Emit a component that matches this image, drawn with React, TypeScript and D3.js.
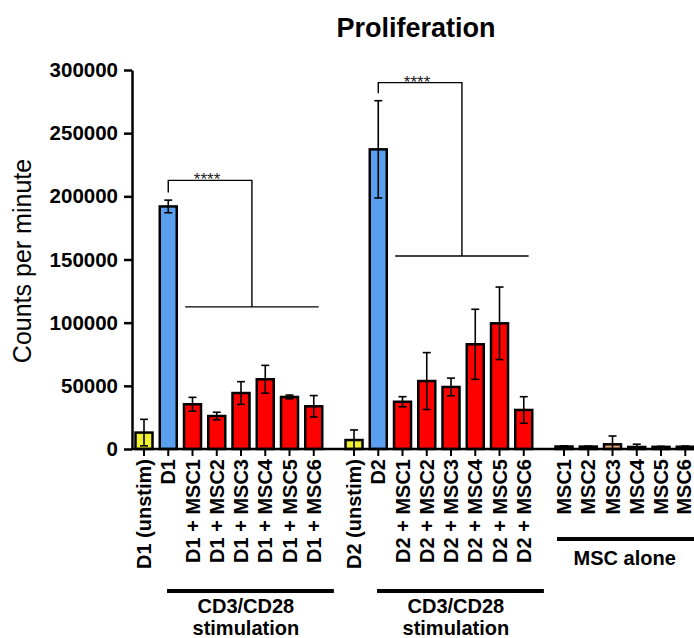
import React, { useEffect, useRef } from "react";
import * as d3 from "d3";

const title = "Proliferation";
const yLabel = "Counts per minute";
const yTicks = [0, 50000, 100000, 150000, 200000, 250000, 300000];

const d1Labels = ["D1 (unstim)", "D1", "D1 + MSC1", "D1 + MSC2", "D1 + MSC3", "D1 + MSC4", "D1 + MSC5", "D1 + MSC6"];
const d1Values = [13000, 192000, 35400, 26100, 44300, 55200, 41200, 33800];
const d1Errors = [10500, 5000, 5500, 3000, 9000, 11000, 1500, 8500];

const d2Labels = ["D2 (unstim)", "D2", "D2 + MSC1", "D2 + MSC2", "D2 + MSC3", "D2 + MSC4", "D2 + MSC5", "D2 + MSC6"];
const d2Values = [7100, 237200, 37400, 53800, 49100, 82900, 99500, 30900];
const d2Errors = [8000, 38500, 4000, 22500, 7000, 27700, 28700, 10500];

const mscLabels = ["MSC1", "MSC2", "MSC3", "MSC4", "MSC5", "MSC6"];
const mscValues = [2000, 1900, 3700, 1600, 1700, 1800];
const mscErrors = [500, 400, 6600, 2200, 400, 500];

// significance brackets per stimulated group
const bracketTops = [212600, 290000];
const bracketDrops = [203000, 281600];
const bracketLows = [112500, 152800];
const stars = "****";

const groupCaptions = ["CD3/CD28", "stimulation"];
const mscCaption = "MSC alone";

const FONT = "'Liberation Sans', Arial, sans-serif";
const W = 694;
const H = 638;

function renderChart(el: SVGSVGElement) {
  const svg = d3.select(el);
  svg.selectAll("*").remove();

  const groupStep = 8.66; // slot offset between groups (bars + gap)
  const x = d3.scaleLinear().domain([-0.495, 22.68]).range([132, W]);
  const y = d3.scaleLinear().domain([0, 300000]).range([449, 70]);

  const colorFor = (i: number) => (i === 0 ? "#f2f032" : i === 1 ? "#5aa0ee" : "#ff0000");

  const rows = [
    ...d1Labels.map((l, i) => ({ label: l, value: d1Values[i], err: d1Errors[i], pos: i, fill: colorFor(i) })),
    ...d2Labels.map((l, i) => ({
      label: l,
      value: d2Values[i],
      err: d2Errors[i],
      pos: groupStep + i,
      fill: colorFor(i),
    })),
    ...mscLabels.map((l, i) => ({
      label: l,
      value: mscValues[i],
      err: mscErrors[i],
      pos: 2 * groupStep + i,
      fill: "#e9a577",
    })),
  ];

  const barW = 17;
  const capW = 8;

  // title
  svg
    .append("text")
    .attr("x", 416)
    .attr("y", 37)
    .attr("text-anchor", "middle")
    .attr("font-family", FONT)
    .attr("font-weight", "bold")
    .attr("font-size", 27)
    .text(title);

  // y axis label
  svg
    .append("text")
    .attr("transform", "translate(31,261) rotate(-90)")
    .attr("text-anchor", "middle")
    .attr("font-family", FONT)
    .attr("font-size", 25)
    .text(yLabel);

  // bars
  const bars = svg.append("g");
  bars
    .selectAll("rect")
    .data(rows)
    .enter()
    .append("rect")
    .attr("x", (d) => x(d.pos) - barW / 2)
    .attr("y", (d) => y(d.value))
    .attr("width", barW)
    .attr("height", (d) => y(0) - y(d.value))
    .attr("fill", (d) => d.fill)
    .attr("stroke", "#000")
    .attr("stroke-width", 2.5);

  // error bars
  const errs = svg.append("g").attr("stroke", "#000").attr("stroke-width", 1.6);
  rows.forEach((d) => {
    const cx = x(d.pos);
    const top = y(d.value + d.err);
    const bot = y(Math.max(0, d.value - d.err));
    errs.append("line").attr("x1", cx).attr("x2", cx).attr("y1", top).attr("y2", bot);
    errs.append("line").attr("x1", cx - capW / 2).attr("x2", cx + capW / 2).attr("y1", top).attr("y2", top);
    errs.append("line").attr("x1", cx - capW / 2).attr("x2", cx + capW / 2).attr("y1", bot).attr("y2", bot);
  });

  // y axis
  const yAxis = svg
    .append("g")
    .attr("transform", "translate(132,0)")
    .call(d3.axisLeft(y).tickValues(yTicks).tickSize(8).tickSizeOuter(0).tickPadding(6).tickFormat(d3.format("d")));
  yAxis.select(".domain").attr("stroke-width", 2.5);
  yAxis.selectAll(".tick line").attr("stroke-width", 2.5);
  yAxis
    .selectAll(".tick text")
    .attr("font-family", FONT)
    .attr("font-weight", "bold")
    .attr("font-size", 20.5)
    .attr("fill", "#000");

  // x axis
  svg
    .append("line")
    .attr("x1", 131)
    .attr("x2", W)
    .attr("y1", y(0))
    .attr("y2", y(0))
    .attr("stroke", "#000")
    .attr("stroke-width", 2.5);

  const ticks = svg.append("g");
  ticks
    .selectAll("line")
    .data(rows)
    .enter()
    .append("line")
    .attr("x1", (d) => x(d.pos))
    .attr("x2", (d) => x(d.pos))
    .attr("y1", y(0))
    .attr("y2", y(0) + 7)
    .attr("stroke", "#000")
    .attr("stroke-width", 2);

  ticks
    .selectAll("text")
    .data(rows)
    .enter()
    .append("text")
    .attr("transform", (d) => "translate(" + Math.min(x(d.pos), 684) + "," + 459 + ") rotate(-90)")
    .attr("dy", "0.36em")
    .attr("text-anchor", "end")
    .attr("font-family", FONT)
    .attr("font-weight", "bold")
    .attr("font-size", 20)
    .text((d) => d.label);

  // significance brackets
  const br = svg.append("g").attr("stroke", "#000").attr("stroke-width", 1.4).attr("fill", "none");
  [0, 1].forEach((g) => {
    const off = g * groupStep;
    const xa = x(off + 1);
    const xm = x(off + 4.45);
    const xl0 = x(off + 1.7);
    const xl1 = x(off + 7.2);
    br.append("path").attr(
      "d",
      `M${xa},${y(bracketDrops[g])}V${y(bracketTops[g])}H${xm}V${y(bracketLows[g])}`
    );
    br.append("line").attr("x1", xl0).attr("x2", xl1).attr("y1", y(bracketLows[g])).attr("y2", y(bracketLows[g]));
    svg
      .append("text")
      .attr("x", (xa + xm) / 2 - 3)
      .attr("y", y(bracketTops[g]) + 5)
      .attr("text-anchor", "middle")
      .attr("font-family", FONT)
      .attr("font-size", 17)
      .attr("fill", "#222")
      .text(stars);
  });

  // group captions
  [0, 1].forEach((g) => {
    const off = g * groupStep;
    svg
      .append("line")
      .attr("x1", x(off + 0.95))
      .attr("x2", x(off + 7.83))
      .attr("y1", 591)
      .attr("y2", 591)
      .attr("stroke", "#000")
      .attr("stroke-width", 4);
    groupCaptions.forEach((c, k) => {
      svg
        .append("text")
        .attr("x", x(off + 4.2))
        .attr("y", 613 + k * 22)
        .attr("text-anchor", "middle")
        .attr("font-family", FONT)
        .attr("font-weight", "bold")
        .attr("font-size", 20)
        .text(c);
    });
  });

  svg
    .append("line")
    .attr("x1", x(2 * groupStep - 0.29))
    .attr("x2", W)
    .attr("y1", 539)
    .attr("y2", 539)
    .attr("stroke", "#000")
    .attr("stroke-width", 4);
  svg
    .append("text")
    .attr("x", x(2 * groupStep + 2.5))
    .attr("y", 565)
    .attr("text-anchor", "middle")
    .attr("font-family", FONT)
    .attr("font-weight", "bold")
    .attr("font-size", 20)
    .text(mscCaption);
}

const App: React.FC = () => {
  const ref = useRef<SVGSVGElement>(null);
  useEffect(() => {
    if (ref.current) renderChart(ref.current);
  }, []);
  return (
    <svg
      ref={ref}
      width={W}
      height={H}
      style={{ position: "absolute", left: 0, top: 0, background: "#fff" }}
    />
  );
};

export default App;
